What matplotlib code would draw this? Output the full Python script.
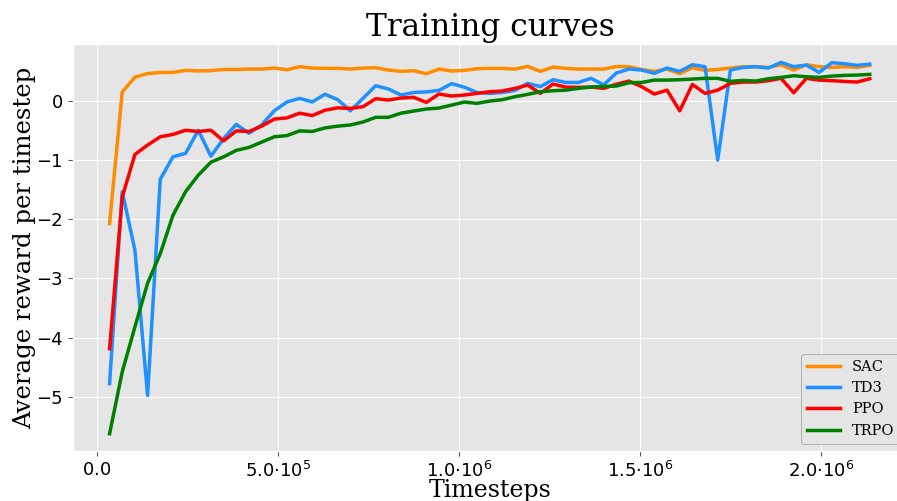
import numpy as np
import matplotlib
matplotlib.use('Agg')
import matplotlib.pyplot as plt
from matplotlib.ticker import FuncFormatter

plt.style.use('ggplot')
plt.rcParams['mathtext.fontset'] = 'dejavusans'

# timesteps at which the policies were evaluated
timesteps = [35000, 70000, 105000, 140000, 175000, 210000, 245000, 280000, 315000, 350000,
             385000, 420000, 455000, 490000, 525000, 560000, 595000, 630000, 665000, 700000,
             735000, 770000, 805000, 840000, 875000, 910000, 945000, 980000, 1015000, 1050000,
             1085000, 1120000, 1155000, 1190000, 1225000, 1260000, 1295000, 1330000, 1365000, 1400000,
             1435000, 1470000, 1505000, 1540000, 1575000, 1610000, 1645000, 1680000, 1715000, 1750000,
             1785000, 1820000, 1855000, 1890000, 1925000, 1960000, 1995000, 2030000, 2065000, 2100000,
             2135000]

sac = [-2.07, 0.16, 0.41, 0.47, 0.49, 0.49, 0.525, 0.515, 0.52, 0.54,
       0.54, 0.547, 0.547, 0.564, 0.536, 0.587, 0.564, 0.559, 0.559, 0.547,
       0.564, 0.57, 0.53, 0.508, 0.519, 0.468, 0.547, 0.514, 0.525, 0.553,
       0.559, 0.559, 0.547, 0.593, 0.508, 0.58, 0.559, 0.547, 0.547, 0.547,
       0.59, 0.587, 0.54, 0.508, 0.547, 0.468, 0.57, 0.525, 0.54, 0.564,
       0.587, 0.587, 0.575, 0.62, 0.53, 0.62, 0.587, 0.575, 0.587, 0.575,
       0.61]

td3 = [-4.78, -1.53, -2.52, -4.98, -1.32, -0.94, -0.88, -0.49, -0.93, -0.63,
       -0.39, -0.54, -0.40, -0.16, -0.01, 0.05, -0.01, 0.12, 0.03, -0.16,
       0.05, 0.265, 0.21, 0.107, 0.15, 0.16, 0.186, 0.30, 0.24, 0.15,
       0.135, 0.15, 0.186, 0.305, 0.25, 0.367, 0.32, 0.32, 0.39, 0.28,
       0.48, 0.547, 0.53, 0.475, 0.564, 0.508, 0.62, 0.587, -0.995, 0.53,
       0.575, 0.587, 0.564, 0.66, 0.587, 0.615, 0.49, 0.655, 0.637, 0.61,
       0.63]

ppo = [-4.19, -1.62, -0.90, -0.74, -0.60, -0.56, -0.49, -0.51, -0.49, -0.67,
       -0.50, -0.51, -0.42, -0.30, -0.28, -0.20, -0.24, -0.15, -0.11, -0.12,
       -0.09, 0.045, 0.022, 0.056, 0.068, -0.017, 0.124, 0.09, 0.107, 0.135,
       0.163, 0.175, 0.22, 0.276, 0.135, 0.293, 0.242, 0.237, 0.242, 0.22,
       0.29, 0.344, 0.248, 0.124, 0.19, -0.16, 0.287, 0.135, 0.19, 0.305,
       0.327, 0.327, 0.35, 0.39, 0.146, 0.39, 0.36, 0.35, 0.338, 0.327,
       0.383]

trpo = [-5.63, -4.58, -3.82, -3.08, -2.58, -1.93, -1.53, -1.25, -1.03, -0.94,
        -0.83, -0.78, -0.69, -0.60, -0.58, -0.50, -0.51, -0.45, -0.42, -0.40,
        -0.35, -0.27, -0.27, -0.20, -0.164, -0.13, -0.113, -0.063, -0.012, -0.034,
        0.005, 0.028, 0.079, 0.118, 0.163, 0.18, 0.19, 0.22, 0.242, 0.253,
        0.259, 0.316, 0.32, 0.36, 0.36, 0.367, 0.378, 0.39, 0.39, 0.338,
        0.355, 0.344, 0.383, 0.406, 0.434, 0.417, 0.406, 0.428, 0.44, 0.445,
        0.457]

labels = ['SAC', 'TD3', 'PPO', 'TRPO']
colors = ['darkorange', 'dodgerblue', 'red', 'green']


def sci_fmt(x, pos):
    if x == 0:
        return r'$0.0$'
    exp = int(np.floor(np.log10(abs(x))))
    mant = x / 10**exp
    return r'$%.1f{\cdot}10^{%d}$' % (mant, exp)


fig = plt.figure(figsize=(8.97, 5.01), dpi=100)
# the original figure was cropped on the right, so the axes run past the edge
ax = fig.add_axes([0.081, 0.1, 0.931, 0.812])

for series, lab, col in zip([sac, td3, ppo, trpo], labels, colors):
    ax.plot(timesteps, series, color=col, linewidth=2.5, label=lab)

ax.set_xlim(-67000, 2240000)
ax.set_ylim(-5.92, 0.97)
ax.set_xticks([0, 500000, 1000000, 1500000, 2000000])
ax.xaxis.set_major_formatter(FuncFormatter(sci_fmt))
ax.tick_params(labelsize=13, labelcolor='black')

ax.set_title('Training curves', family='DejaVu Serif', fontsize=22.5, pad=6)
ax.set_xlabel('Timesteps', family='DejaVu Serif', fontsize=17, color='black', labelpad=-1.5)
ax.set_ylabel('Average reward per timestep', family='DejaVu Serif', fontsize=17.6,
              color='black', labelpad=0)

ax.legend(loc='lower right', prop={'family': 'DejaVu Serif', 'size': 10.5},
          facecolor='#e5e5e5', edgecolor='#999999', framealpha=1.0,
          borderaxespad=0.5, handlelength=2.3)

fig.savefig('out.png', dpi=100)
